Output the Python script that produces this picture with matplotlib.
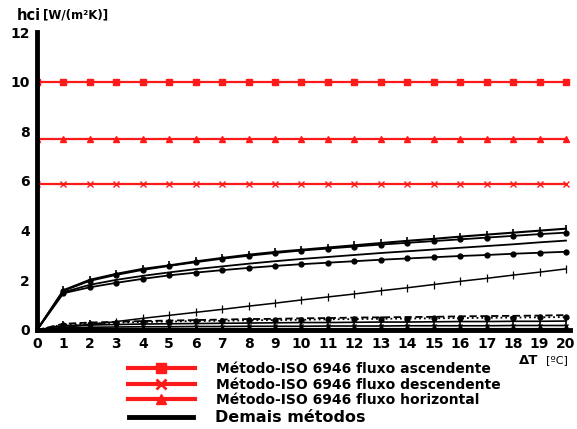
import matplotlib
matplotlib.use("Agg")
import matplotlib.pyplot as plt
from matplotlib.lines import Line2D

plt.rcParams['font.family'] = ['DejaVu Sans']

# Temperature difference (x axis)
dT = list(range(21))

# ISO 6946 constant coefficients
hci_ascendente = 10.0
hci_horizontal = 7.69
hci_descendente = 5.88

# Other methods (black curves)
curve_a = [0, 1.60, 2.02, 2.26, 2.46, 2.60, 2.76, 2.90, 3.03, 3.14, 3.23,
           3.32, 3.41, 3.50, 3.59, 3.67, 3.76, 3.84, 3.92, 4.00, 4.08]
curve_b = [0, 1.58, 1.98, 2.22, 2.42, 2.58, 2.73, 2.87, 2.99, 3.10, 3.20,
           3.28, 3.36, 3.44, 3.51, 3.58, 3.65, 3.72, 3.79, 3.86, 3.92]
curve_c = [0, 1.52, 1.82, 2.02, 2.18, 2.32, 2.45, 2.56, 2.67, 2.77, 2.86,
           2.94, 3.02, 3.10, 3.17, 3.24, 3.31, 3.38, 3.45, 3.53, 3.60]
curve_d = [0, 1.48, 1.72, 1.90, 2.06, 2.20, 2.31, 2.41, 2.50, 2.58, 2.65,
           2.71, 2.77, 2.83, 2.88, 2.93, 2.98, 3.02, 3.07, 3.11, 3.15]
curve_e = [0, 0.10, 0.22, 0.34, 0.47, 0.59, 0.71, 0.83, 0.96, 1.08, 1.21,
           1.33, 1.45, 1.58, 1.70, 1.83, 1.96, 2.08, 2.21, 2.33, 2.46]
curve_f = [0, 0.25, 0.30, 0.33, 0.36, 0.38, 0.40, 0.42, 0.44, 0.45, 0.47,
           0.48, 0.50, 0.51, 0.52, 0.53, 0.55, 0.56, 0.57, 0.58, 0.60]
curve_g = [0, 0.22, 0.26, 0.29, 0.32, 0.34, 0.36, 0.37, 0.39, 0.40, 0.41,
           0.43, 0.44, 0.45, 0.46, 0.47, 0.48, 0.49, 0.50, 0.51, 0.52]
curve_h = [0, 0.18, 0.20, 0.22, 0.24, 0.25, 0.26, 0.27, 0.28, 0.29, 0.30,
           0.30, 0.31, 0.32, 0.32, 0.33, 0.34, 0.34, 0.35, 0.35, 0.36]
curve_i = [0, 0.10, 0.11, 0.12, 0.13, 0.13, 0.14, 0.14, 0.15, 0.15, 0.15,
           0.16, 0.16, 0.16, 0.17, 0.17, 0.17, 0.17, 0.18, 0.18, 0.18]
curve_j = [0, 0.04, 0.04, 0.05, 0.05, 0.05, 0.05, 0.05, 0.05, 0.05, 0.05,
           0.05, 0.05, 0.05, 0.05, 0.05, 0.05, 0.05, 0.05, 0.05, 0.05]

legend_labels = ["Método-ISO 6946 fluxo ascendente",
                 "Método-ISO 6946 fluxo descendente",
                 "Método-ISO 6946 fluxo horizontal"]

fig = plt.figure(figsize=(5.77, 4.29), dpi=100)
ax = fig.add_axes([0.0641, 0.2308, 0.9237, 0.6946])

red = '#ff1a1a'
ax.plot(dT, [hci_ascendente] * len(dT), color=red, lw=1.6, marker='s', ms=4.5)
ax.plot(dT, [hci_horizontal] * len(dT), color=red, lw=1.6, marker='^', ms=4.5)
ax.plot(dT, [hci_descendente] * len(dT), color=red, lw=1.6, marker='x', ms=4.5, mew=1.0)

k = 'black'
ax.plot(dT, curve_a, color=k, lw=1.5, marker='|', ms=6, mew=1.2)
ax.plot(dT, curve_b, color=k, lw=1.3, marker='o', ms=3.5)
ax.plot(dT, curve_c, color=k, lw=1.3)
ax.plot(dT, curve_d, color=k, lw=1.3, marker='o', ms=3.5)
ax.plot(dT, curve_e, color=k, lw=1.1, marker='|', ms=6, mew=0.9)
ax.plot(dT, curve_f, color=k, lw=1.3, ls=(0, (4, 2)))
ax.plot(dT, curve_g, color=k, lw=1.3, ls=':', marker='o', ms=3.5)
ax.plot(dT, curve_h, color=k, lw=1.2, marker='|', ms=7, mew=1.2)
ax.plot(dT, curve_i, color=k, lw=1.2, marker='x', ms=3.5)
ax.plot(dT, curve_j, color=k, lw=1.2)

ax.set_xlim(0, 20.15)
ax.set_ylim(0, 12)
ax.set_xticks(range(0, 21))
ax.set_yticks(range(0, 13, 2))
ax.tick_params(length=0, labelsize=10, pad=5)
for lab in ax.get_xticklabels() + ax.get_yticklabels():
    lab.set_fontweight('bold')
for s in ['top', 'right']:
    ax.spines[s].set_visible(False)
ax.spines['left'].set_linewidth(3.5)
ax.spines['bottom'].set_linewidth(3.5)

# axis titles
fig.text(0.029, 0.965, "hci", fontsize=10.5, fontweight='bold', va='center')
fig.text(0.074, 0.965, "[W/(m²K)]", fontsize=8.5, fontweight='bold', va='center')
fig.text(0.900, 0.160, "ΔT", fontsize=9.5, fontweight='bold', va='center')
fig.text(0.947, 0.160, "[ºC]", fontsize=8, va='center')

handles = [
    Line2D([], [], color=red, lw=3, marker='s', ms=7),
    Line2D([], [], color=red, lw=3, marker='x', ms=7, mew=2),
    Line2D([], [], color=red, lw=3, marker='^', ms=7),
]
leg1 = fig.legend(handles, legend_labels, loc='upper left',
                  bbox_to_anchor=(0.210, 0.172), frameon=False,
                  handlelength=4.8, handletextpad=1.5, labelspacing=0.1,
                  prop={'weight': 'bold', 'size': 10}, borderpad=0)
leg2 = fig.legend([Line2D([], [], color='black', lw=3.5)], ["Demais métodos"],
                  loc='upper left', bbox_to_anchor=(0.210, 0.062), frameon=False,
                  handlelength=4.0, handletextpad=1.4,
                  prop={'weight': 'bold', 'size': 11.5}, borderpad=0)

fig.savefig("out.png", dpi=100)
